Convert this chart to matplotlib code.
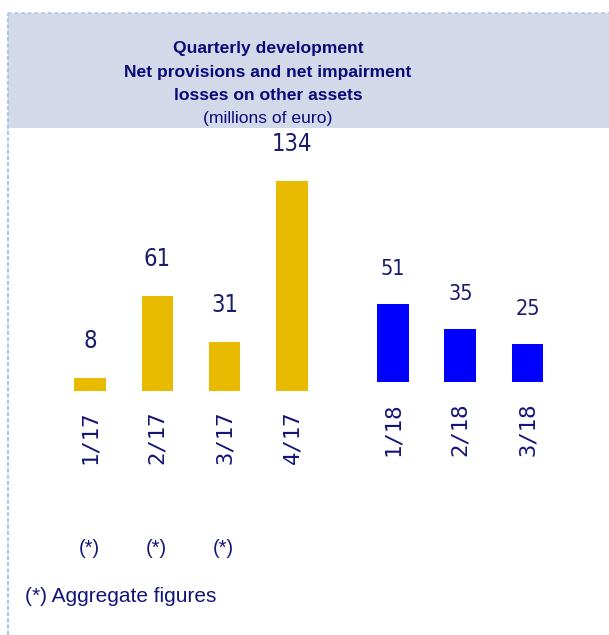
import matplotlib
matplotlib.use("Agg")
import matplotlib.pyplot as plt
from matplotlib.patches import Rectangle
from matplotlib.lines import Line2D
from matplotlib import font_manager

# values (millions of euro)
quarters_17 = ["1/17", "2/17", "3/17", "4/17"]
values_17 = [8, 61, 31, 134]
aggregate_17 = [True, True, True, False]
quarters_18 = ["1/18", "2/18", "3/18"]
values_18 = [51, 35, 25]

W, H = 609, 635
navy = "#14147a"
gold = "#e8bb00"
blue = "#0000ff"
cat_font = ["DejaVu Sans Mono"]

names = {f.name for f in font_manager.fontManager.ttflist}
if "Liberation Sans Narrow" in names:
    value_fp = dict(family="Liberation Sans Narrow")
else:
    value_fp = dict(family="DejaVu Sans", stretch="condensed")

fig = plt.figure(figsize=(W / 100, H / 100), dpi=100)
fig.patch.set_facecolor("white")

# header band + dotted border
fig.patches.append(Rectangle((8 / W, 1 - 128 / H), 1 - 8 / W, 115 / H,
                             transform=fig.transFigure, facecolor="#d4d9ea",
                             edgecolor="none", zorder=0))
fig.lines.append(Line2D([8 / W, 1], [1 - 13 / H, 1 - 13 / H], transform=fig.transFigure,
                        color="#a8c8e8", lw=1.2, ls=(0, (2, 2))))
fig.lines.append(Line2D([8 / W, 8 / W], [0, 1 - 13 / H], transform=fig.transFigure,
                        color="#a8c8e8", lw=1.5, ls=(0, (2, 1))))

tx = 268 / W
title_kw = dict(ha="center", va="center", fontsize=12.6, color="#0a0a78",
                family="Liberation Sans")
fig.text(tx, 1 - 49 / H, "Quarterly development", fontweight="bold", **title_kw)
fig.text(tx, 1 - 73 / H, "Net provisions and net impairment", fontweight="bold", **title_kw)
fig.text(tx, 1 - 96 / H, "losses on other assets", fontweight="bold", **title_kw)
fig.text(tx, 1 - 118 / H, "(millions of euro)", **title_kw)

# x mapping: one unit = 67.33 px, first bar centre at 90 px
x_lo, x_hi = -90 / 67.33, (W - 90) / 67.33
pos_17 = [0, 1, 2, 3]
pos_18 = [4.5, 5.5, 6.5]


def draw(ax, pos, vals, labels, color, size):
    ax.bar(pos, vals, width=0.47, color=color)
    for x, v, lab in zip(pos, vals, labels):
        ax.annotate(str(v), (x, v), xytext=(0, 25), textcoords="offset pixels",
                    ha="center", va="bottom", fontsize=size, color="#1a1a6e",
                    **value_fp)
        ax.annotate(lab, (x, 0), xytext=(0, -20), textcoords="offset pixels",
                    ha="center", va="top", rotation=90, fontsize=16,
                    color=navy, family=cat_font)
    ax.set_xlim(x_lo, x_hi)
    ax.axis("off")


ax1 = fig.add_axes([0, 1 - 391 / H, 1, 261 / H])
draw(ax1, pos_17, values_17, quarters_17, gold, 17)
ax1.set_ylim(0, 261 / 1.565)
for x, agg in zip(pos_17, aggregate_17):
    if agg:
        ax1.annotate("(*)", (x, 0), xytext=(-1, -157), textcoords="offset pixels",
                     ha="center", va="center", fontsize=14.5, color=navy,
                     family="Liberation Sans")

ax2 = fig.add_axes([0, 1 - 382 / H, 1, 252 / H])
draw(ax2, pos_18, values_18, quarters_18, blue, 15.5)
ax2.set_ylim(0, 252 / 1.52)

fig.text(25 / W, 1 - 597 / H, "(*) Aggregate figures", ha="left", va="center",
         fontsize=15, color=navy, family="Liberation Sans")

plt.savefig("out.png", dpi=100)
